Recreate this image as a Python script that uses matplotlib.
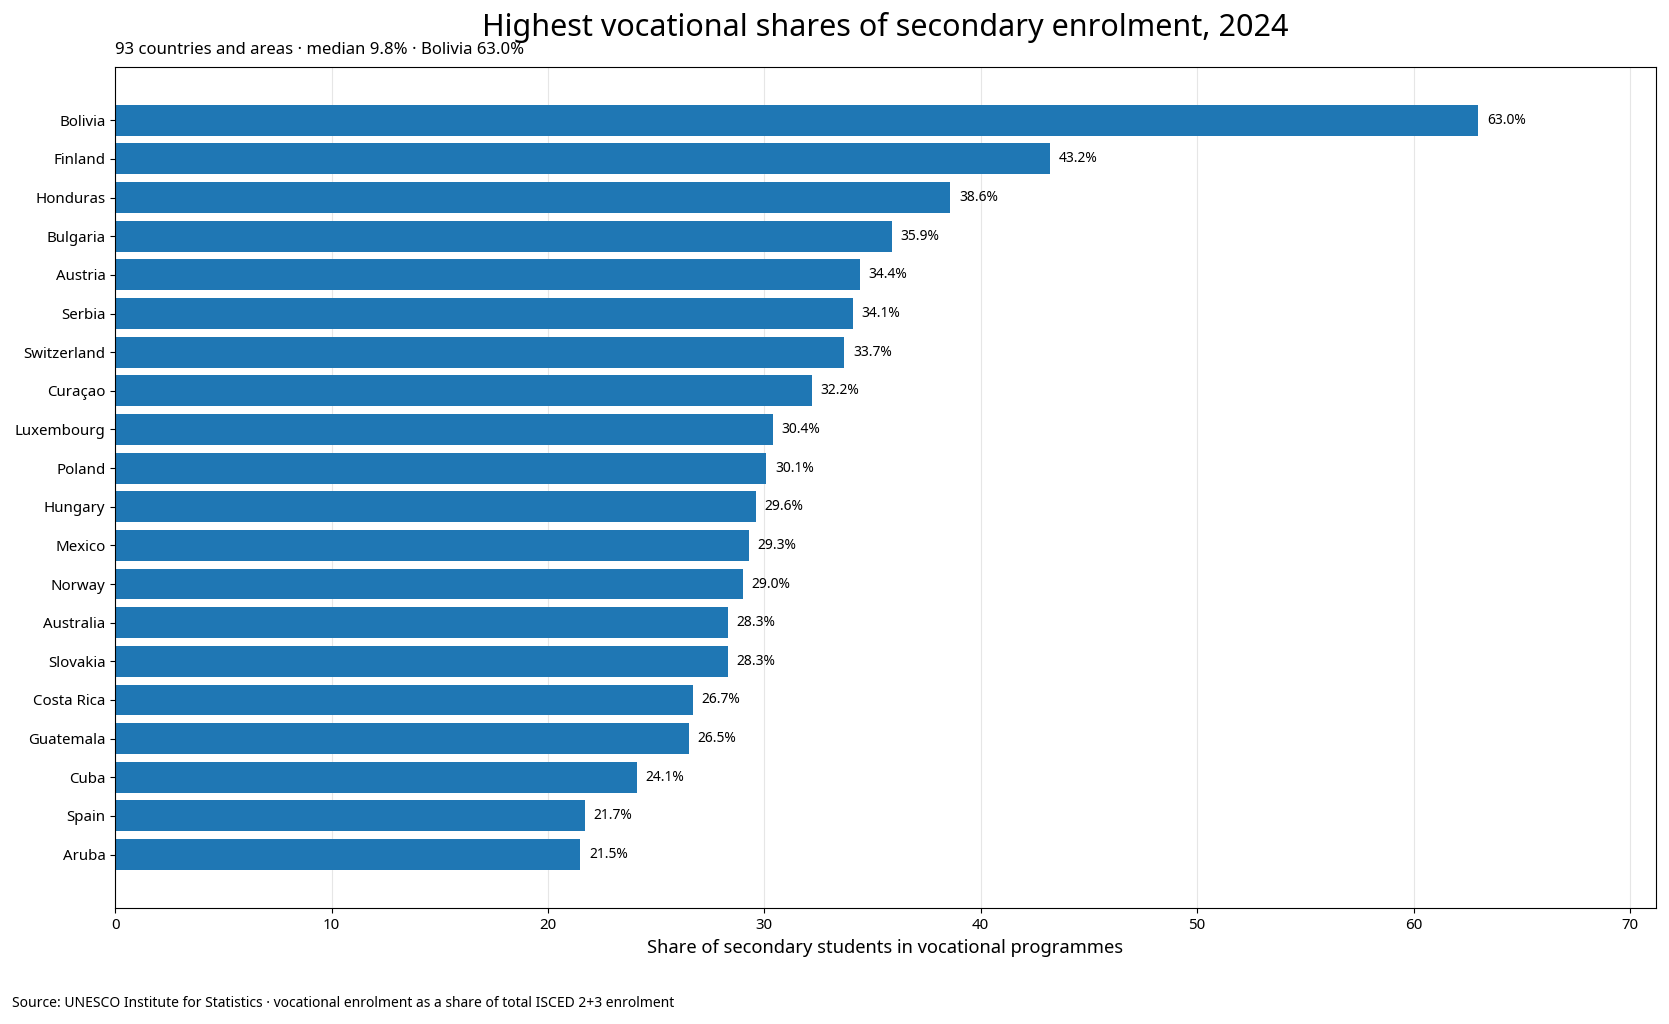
import matplotlib
matplotlib.use("Agg")
import matplotlib.pyplot as plt

plt.rcParams['font.family'] = ['Noto Sans', 'DejaVu Sans']

countries = ["Bolivia", "Finland", "Honduras", "Bulgaria", "Austria", "Serbia",
             "Switzerland", "Curaçao", "Luxembourg", "Poland", "Hungary", "Mexico",
             "Norway", "Australia", "Slovakia", "Costa Rica", "Guatemala", "Cuba",
             "Spain", "Aruba"]
shares = [63.0, 43.2, 38.6, 35.9, 34.4, 34.1, 33.7, 32.2, 30.4, 30.1, 29.6, 29.3,
          29.0, 28.3, 28.3, 26.7, 26.5, 24.1, 21.7, 21.5]

title = "Highest vocational shares of secondary enrolment, 2024"
subtitle = "93 countries and areas · median 9.8% · Bolivia 63.0%"
xlabel = "Share of secondary students in vocational programmes"
source = "Source: UNESCO Institute for Statistics · vocational enrolment as a share of total ISCED 2+3 enrolment"

fig = plt.figure(figsize=(16.69, 10.24), dpi=100)
left, width = 0.069, 0.923
ax = fig.add_axes([left, 0.113, width, 0.822])

ypos = list(range(len(countries)))
ax.barh(ypos, shares, color="#1f77b4", height=0.8, zorder=2)
ax.set_yticks(ypos)
ax.set_yticklabels(countries, fontsize=10.8)
ax.invert_yaxis()
ax.set_xlim(0, max(shares) * 1.13)
ax.grid(axis="x", color="#e6e6e6", linewidth=0.8, zorder=0)
ax.set_axisbelow(True)
ax.tick_params(axis="x", labelsize=10.8)

for y, v in zip(ypos, shares):
    ax.text(v + 0.4, y, f"{v:.1f}%", va="center", ha="left", fontsize=10)

ax.set_xlabel(xlabel, fontsize=13.2)
fig.text(left + width / 2, 0.973, title, fontsize=22, ha="center", va="center")
ax.set_title(subtitle, loc="left", fontsize=12, pad=9)
fig.text(0.007, 0.013, source, fontsize=10, ha="left", va="bottom")

fig.savefig("out.png", dpi=100)
